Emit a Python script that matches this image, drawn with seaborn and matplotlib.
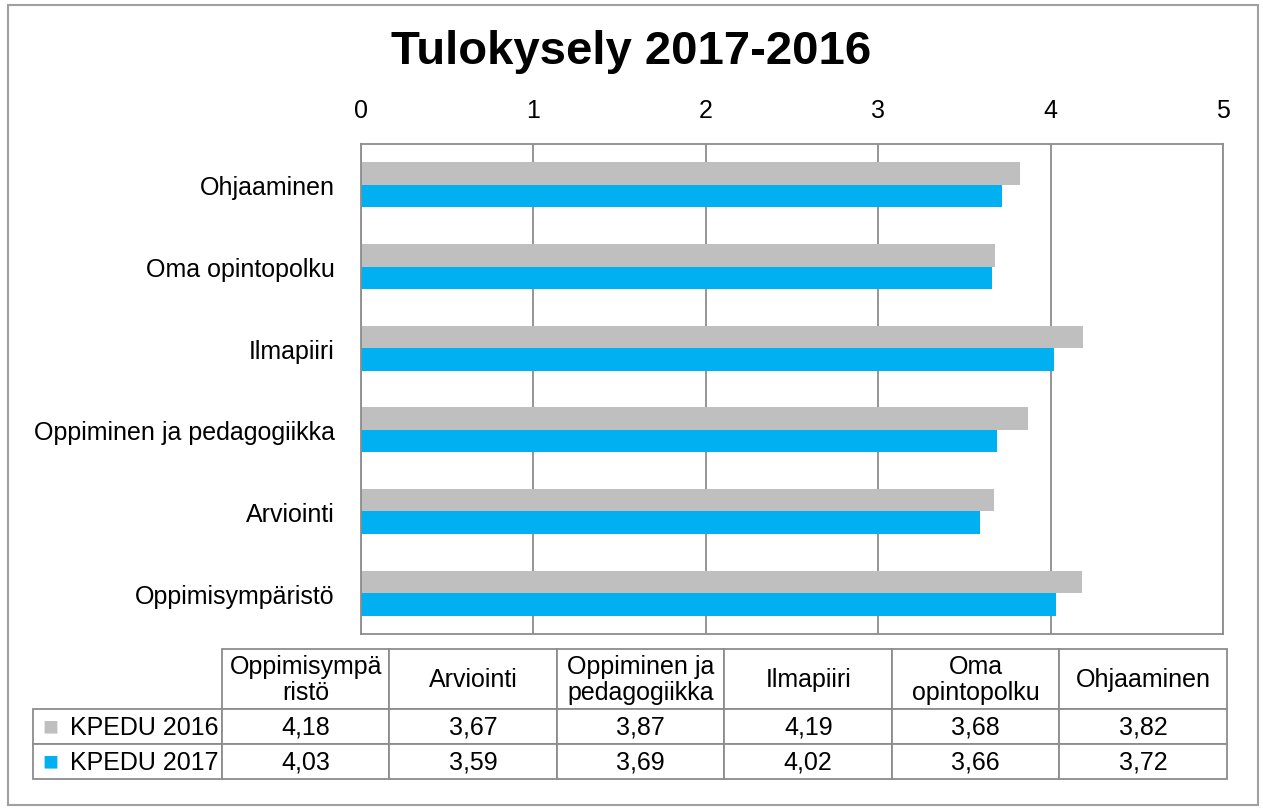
import matplotlib
matplotlib.use('Agg')
import matplotlib.pyplot as plt
import seaborn as sns
import pandas as pd
from matplotlib.patches import Rectangle

# data (table order, Excel order = bottom to top in chart)
cats = ['Oppimisympäristö', 'Arviointi', 'Oppiminen ja pedagogiikka',
        'Ilmapiiri', 'Oma opintopolku', 'Ohjaaminen']
header_labels = ['Oppimisympä\nristö', 'Arviointi', 'Oppiminen ja\npedagogiikka',
                 'Ilmapiiri', 'Oma\nopintopolku', 'Ohjaaminen']
series = ['KPEDU 2016', 'KPEDU 2017']
v2016 = [4.18, 3.67, 3.87, 4.19, 3.68, 3.82]
v2017 = [4.03, 3.59, 3.69, 4.02, 3.66, 3.72]
colors = ['#BFBFBF', '#00B0F0']
xticks = [0, 1, 2, 3, 4, 5]

df = pd.DataFrame({
    'kategoria': cats * 2,
    'vuosi': [series[0]] * len(cats) + [series[1]] * len(cats),
    'arvo': v2016 + v2017,
})

sns.set_style('white')
plt.rcParams['font.family'] = ['Liberation Sans', 'DejaVu Sans']
plt.rcParams['text.color'] = 'black'
plt.rcParams['xtick.color'] = 'black'
plt.rcParams['ytick.color'] = 'black'
grid_col = '#8C8C8C'

fig = plt.figure(figsize=(12.63, 8.12), dpi=100)
fig.patches.append(Rectangle((0.006, 0.008), 0.99, 0.985, transform=fig.transFigure,
                             fill=False, edgecolor='#A0A0A0', lw=1.5))

ax = fig.add_axes([0.2858, 0.218, 0.6825, 0.6034])
sns.barplot(data=df, y='kategoria', x='arvo', hue='vuosi', order=cats[::-1],
            hue_order=series, palette=colors, width=0.55, orient='h',
            saturation=1, legend=False, linewidth=0, ax=ax)
ax.set_xlim(0, 5)
ax.set_xticks(xticks)
ax.xaxis.tick_top()
ax.set_xlabel('')
ax.set_ylabel('')
ax.tick_params(axis='x', length=0, pad=16, labelsize=18)
ax.tick_params(axis='y', length=0, pad=19, labelsize=18)
ax.grid(axis='x', color=grid_col, lw=1.3)
ax.set_axisbelow(True)
for s in ax.spines.values():
    s.set_color(grid_col)
    s.set_linewidth(1.3)

fig.text(0.5, 0.936, 'Tulokysely 2017-2016', ha='center', va='center',
         fontsize=34, fontweight='bold')

# data table
tax = fig.add_axes([0.0261, 0.0394, 0.9454, 0.16])
tax.axis('off')
cell_text = [[''] + header_labels]
for name, vals in zip(series, [v2016, v2017]):
    cell_text.append([name] + [f'{v:.2f}'.replace('.', ',') for v in vals])
tbl = tax.table(cellText=cell_text, cellLoc='center', bbox=[0, 0, 1, 1])
tbl.auto_set_font_size(False)
col_w = [189] + [167.5] * 6
row_h = [60, 35, 35]
for (r, c), cell in tbl.get_celld().items():
    cell.set_width(col_w[c] / sum(col_w))
    cell.set_height(row_h[r] / sum(row_h))
    cell.set_edgecolor(grid_col)
    cell.set_linewidth(1.3)
    cell.get_text().set_fontsize(18)
    cell.get_text().set_linespacing(1.15)
    if r == 0 and c == 0:
        cell.visible_edges = ''
    if r > 0 and c == 0:
        cell.PAD = 0.02
        cell.get_text().set_ha('right')
        cell._loc = 'right'

# legend keys in row label cells
for i, col in enumerate(colors):
    y = (row_h[2] * (1 - i) + row_h[2] / 2) / sum(row_h)
    tax.text(0.0075, y, '■', color=col, fontsize=19, ha='left', va='center',
             transform=tax.transAxes)

fig.savefig('out.png', dpi=100)
